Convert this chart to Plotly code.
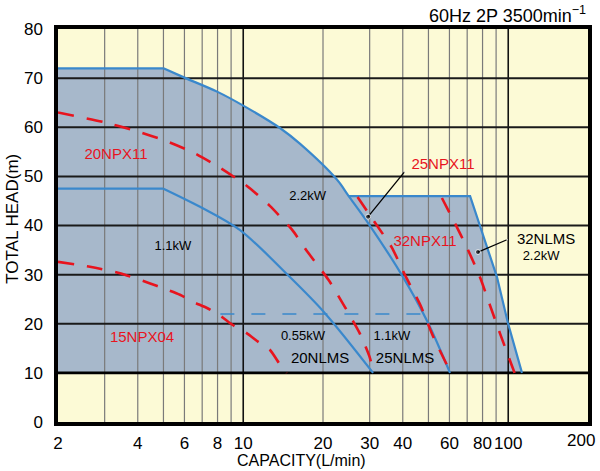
import math
import plotly.graph_objects as go

# ---------------- data ----------------
X_TICKS = [2, 4, 6, 8, 10, 20, 30, 40, 60, 80, 100, 200]
Y_TICKS = [0, 10, 20, 30, 40, 50, 60, 70, 80]
X_GRID_MINOR = [3, 4, 5, 6, 7, 8, 9, 20, 30, 40, 50, 60, 70, 80, 90]
X_GRID_MAJOR = [10, 100]
Y_GRID = [20, 30, 40, 50, 60, 70]

# 20NLMS 2.2kW (outer curve)
nlms22_q = [2, 5, 6, 8, 10, 13.8, 16.4, 22.6, 25.0, 29.6, 40.1, 49.8, 60.3]
nlms22_h = [72, 72, 70.1, 67.2, 64.4, 59.8, 56.6, 49.3, 46.0, 40.5, 29.5, 20.2, 10]
# 20NLMS 1.1kW
nlms11_q = [2, 5, 6.87, 9.7, 15, 20.3, 30.9]
nlms11_h = [47.5, 47.5, 43.8, 39.1, 29.5, 22.2, 10]
# 32NLMS 2.2kW
n32_q = [25.0, 71.8, 90.7, 99.7, 112.7]
n32_h = [46, 46, 29.5, 20.2, 10]
# 0.55kW limit (dashed)
n055_q = [8.2, 48]
n055_h = [22, 22]

# NPX curves (red dashed)
npx2011_q = [2, 3, 3.9, 5.06, 6.45, 8.2, 10.3, 12.6, 15.3, 17.5, 21, 24.2, 27.5, 30, 31]
npx2011_h = [63, 61, 59.3, 57.3, 54.9, 51.7, 48.1, 44, 39.1, 34.6, 28.9, 23.4, 18.1, 13.2, 10]
npx1504_q = [2, 2.64, 3.43, 4.4, 5.06, 5.77, 6.5, 7.3, 8.2, 9.1, 10.3, 11.4, 12.6, 13.8, 14.6]
npx1504_h = [32.6, 31.6, 30.3, 28.3, 27.1, 25.9, 24.4, 23.2, 21.6, 19.8, 18.1, 16.3, 14.7, 11.6, 10]
npx2511_q = [27.0, 31.3, 36.3, 40.8, 46.6, 52.2, 59.2, 60.5]
npx2511_h = [45.8, 40.7, 35.6, 29.9, 23.8, 17.3, 11.2, 10]
npx3211_q = [56.2, 62.6, 70.0, 78.2, 85.3, 93.0, 103.0, 105.7]
npx3211_h = [45.6, 40.7, 35.4, 29.5, 23.8, 18.1, 11.6, 10]

BOTTOM_HEAD = 10

# labels: (text, q, head, color, size)
LABELS = [
    ("20NPX11", 3.31, 54.2, "#E8141E", 15),
    ("15NPX04", 4.15, 17.1, "#E8141E", 15),
    ("25NPX11", 56.7, 52.3, "#E8141E", 15),
    ("32NPX11", 48.5, 36.5, "#E8141E", 15),
    ("2.2kW", 17.5, 45.8, "black", 13),
    ("1.1kW", 5.43, 35.6, "black", 13),
    ("0.55kW", 16.8, 17.3, "black", 13),
    ("20NLMS", 19.5, 12.8, "black", 15),
    ("1.1kW", 36.4, 17.3, "black", 13),
    ("25NLMS", 40.8, 12.8, "black", 15),
    ("32NLMS", 139, 37.1, "black", 15),
    ("2.2kW", 133, 33.6, "black", 13),
]
# pointer lines: (dot q, dot head, end q, end head)
POINTERS = [
    (29.6, 41.8, 40.6, 50.9),
    (76.9, 34.6, 98.9, 37.1),
]

# ---------------- styles ----------------
YELLOW = "#FCFAD6"
FILL = "#A7B8CB"
BLUE = "#3A88CC"
RED = "#E8141E"
FONT = "Liberation Sans, Arial, sans-serif"

fig = go.Figure()

# filled regions
fig.add_trace(go.Scatter(
    x=nlms22_q + [nlms22_q[-1], nlms22_q[0]],
    y=nlms22_h + [BOTTOM_HEAD, BOTTOM_HEAD],
    fill="toself", fillcolor=FILL, mode="none", hoverinfo="skip"))
fig.add_trace(go.Scatter(
    x=n32_q + [n32_q[-1], n32_q[0]],
    y=n32_h + [BOTTOM_HEAD, BOTTOM_HEAD],
    fill="toself", fillcolor=FILL, mode="none", hoverinfo="skip"))


def grid_trace(vals, vertical, color, width):
    xs, ys = [], []
    for v in vals:
        if vertical:
            xs += [v, v, None]
            ys += [Y_TICKS[0], Y_TICKS[-1], None]
        else:
            xs += [X_TICKS[0], X_TICKS[-1], None]
            ys += [v, v, None]
    return go.Scatter(x=xs, y=ys, mode="lines", line=dict(color=color, width=width),
                      hoverinfo="skip")


fig.add_trace(grid_trace(X_GRID_MINOR, True, "#7a7a7a", 1.2))
fig.add_trace(grid_trace(X_GRID_MAJOR, True, "#111111", 1.6))
fig.add_trace(grid_trace(Y_GRID, False, "#1a1a1a", 2))
fig.add_trace(grid_trace([BOTTOM_HEAD], False, "#000000", 2.6))


def curve(q, h, **line):
    """flat part as straight segment, falling part smoothed"""
    k = 1 if h[1] == h[0] else 0
    if k:
        fig.add_trace(go.Scatter(x=q[:2], y=h[:2], mode="lines",
                                 line=dict(shape="linear", **line), hoverinfo="skip"))
    fig.add_trace(go.Scatter(x=q[k:], y=h[k:], mode="lines",
                             line=dict(shape="spline", smoothing=0.9, **line),
                             hoverinfo="skip"))


# blue outlines
curve(nlms22_q, nlms22_h, color=BLUE, width=2.2)
curve(nlms11_q, nlms11_h, color=BLUE, width=2.2)
fig.add_trace(go.Scatter(x=n32_q, y=n32_h, mode="lines",
                         line=dict(color=BLUE, width=2.2), hoverinfo="skip"))
fig.add_trace(go.Scatter(x=n055_q, y=n055_h, mode="lines",
                         line=dict(color=BLUE, width=1.6, dash="14px,17px"), hoverinfo="skip"))

# red dashed
for q, h in [(npx2011_q, npx2011_h), (npx1504_q, npx1504_h),
             (npx2511_q, npx2511_h), (npx3211_q, npx3211_h)]:
    fig.add_trace(go.Scatter(x=q, y=h, mode="lines",
                             line=dict(color=RED, width=2.6, dash="16px,13px",
                                       shape="spline", smoothing=0.6),
                             hoverinfo="skip"))

# pointer lines
for q0, h0, q1, h1 in POINTERS:
    fig.add_trace(go.Scatter(x=[q0, q1], y=[h0, h1], mode="lines+markers",
                             line=dict(color="black", width=1.3),
                             marker=dict(size=[5, 1], color="black"), hoverinfo="skip"))

# labels
for text, q, h, color, size in LABELS:
    fig.add_trace(go.Scatter(x=[q], y=[h], mode="text", text=[text],
                             textfont=dict(color=color, size=size, family=FONT),
                             textposition="middle center", hoverinfo="skip"))

# last x tick label is drawn pulled in from the right edge (as in the original)
tick_text = [str(v) for v in X_TICKS[:-1]] + [""]

annotations = [
    dict(text="60Hz 2P 3500min<sup>−1</sup>", xref="paper", yref="paper", x=1.0, y=1.0,
         xanchor="right", yanchor="bottom", yshift=1, showarrow=False,
         font=dict(size=18, family=FONT, color="black")),
    dict(text=str(X_TICKS[-1]), xref="paper", yref="paper", x=1.0, y=0, xshift=9,
         yshift=-18, xanchor="right", yanchor="middle", showarrow=False,
         font=dict(size=17, family=FONT, color="black")),
    dict(text="CAPACITY(L/min)", xref="paper", yref="paper", x=0.46, y=0, yshift=-38,
         xanchor="center", yanchor="middle", showarrow=False,
         font=dict(size=16, family=FONT, color="black")),
    dict(text="TOTAL HEAD(m)", xref="paper", yref="paper", x=0, xshift=-45, y=0.517,
         textangle=-90, xanchor="center", yanchor="middle", showarrow=False,
         font=dict(size=17, family=FONT, color="black")),
]

fig.update_layout(
    width=600, height=471,
    margin=dict(l=58, r=12, t=29, b=49, autoexpand=False),
    paper_bgcolor="white", plot_bgcolor=YELLOW,
    showlegend=False,
    annotations=annotations,
    font=dict(family=FONT, size=17, color="black"),
)
fig.update_xaxes(type="log", range=[math.log10(X_TICKS[0]), math.log10(X_TICKS[-1])],
                 tickvals=X_TICKS, ticktext=tick_text, tickangle=0,
                 automargin=False,
                 showgrid=False, zeroline=False, showline=True, linecolor="black",
                 linewidth=3.5, mirror=True, ticks="", tickfont=dict(size=17),
                 ticklabelstandoff=3)
fig.update_yaxes(range=[Y_TICKS[0], Y_TICKS[-1]], tickvals=Y_TICKS, automargin=False,
                 showgrid=False, zeroline=False, showline=True, linecolor="black",
                 linewidth=3.5, mirror=True, ticks="", tickfont=dict(size=17),
                 ticklabelstandoff=8)

fig.write_html("out.html", config={"displayModeBar": False},
               post_script="document.body.style.margin='0';"
                           "document.body.style.overflow='hidden';")
